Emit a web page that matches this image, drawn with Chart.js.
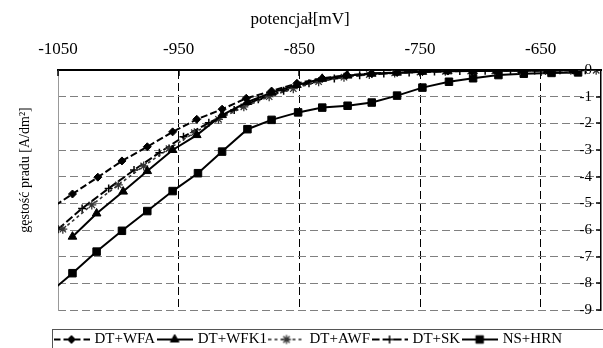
<!DOCTYPE html>
<html>
<head>
<meta charset="utf-8">
<script src="https://cdn.jsdelivr.net/npm/chart.js@4.4.1/dist/chart.umd.min.js"></script>
<style>
html,body{margin:0;padding:0;background:#fff;width:603px;height:348px;overflow:hidden}
#wrap{position:absolute;left:0;top:0;width:700px;height:357px}
canvas{display:block}
</style>
</head>
<body>
<div id="wrap"><canvas id="c" width="700" height="357"></canvas></div>
<script>
// potential [mV] and current density [A/dm2] for each bath
const potWFA  = [-1059, -1038, -1017, -997, -976, -955, -935, -914, -894, -873, -852, -831, -811, -790, -769, -748, -727, -707, -686, -665, -644, -623];
const jWFA    = [-5.28, -4.65, -4.02, -3.41, -2.88, -2.32, -1.85, -1.47, -1.06, -0.79, -0.50, -0.31, -0.20, -0.13, -0.09, -0.06, -0.04, -0.03, -0.02, -0.02, -0.01, -0.01];

const potWFK1 = [-1038, -1018, -996, -976, -955, -935, -914, -893, -873, -852, -831, -810, -790, -769, -748, -727, -706, -686, -665, -644, -623];
const jWFK1   = [-6.25, -5.38, -4.56, -3.79, -3.00, -2.44, -1.69, -1.20, -0.85, -0.56, -0.33, -0.21, -0.14, -0.10, -0.07, -0.05, -0.04, -0.03, -0.02, -0.02, -0.01];

const potAWF  = [-1046, -1022, -1000, -979, -958, -937, -917, -896, -875, -855, -834, -813, -792, -771, -750, -729, -708, -688, -667, -646, -625, -604];
const jAWF    = [-5.97, -5.06, -4.31, -3.60, -2.95, -2.35, -1.85, -1.38, -1.00, -0.70, -0.44, -0.27, -0.17, -0.11, -0.08, -0.05, -0.04, -0.03, -0.02, -0.02, -0.01, -0.01];

const potSK   = [-1050, -1030, -1008, -987, -966, -946, -925, -904, -884, -863, -842, -821, -800, -780, -759, -738, -717, -696, -675, -655, -634, -613];
const jSK     = [-5.97, -5.19, -4.44, -3.75, -3.10, -2.50, -1.98, -1.50, -1.10, -0.78, -0.50, -0.32, -0.20, -0.13, -0.09, -0.06, -0.04, -0.03, -0.02, -0.02, -0.01, -0.01];

const potHRN  = [-1059, -1038, -1018, -997, -976, -955, -934, -914, -893, -873, -851, -831, -810, -790, -769, -748, -726, -706, -685, -664, -641, -619];
const jHRN    = [-8.43, -7.62, -6.81, -6.03, -5.29, -4.54, -3.87, -3.06, -2.22, -1.87, -1.59, -1.41, -1.34, -1.22, -0.96, -0.66, -0.44, -0.31, -0.19, -0.14, -0.11, -0.09];

const seriesNames = ['DT+WFA', 'DT+WFK1', 'DT+AWF', 'DT+SK', 'NS+HRN'];
const xTicks = [-1050, -950, -850, -750, -650];
const yTicks = [0, -1, -2, -3, -4, -5, -6, -7, -8, -9];
const xTitle = 'potencjał[mV]';
const yTitle = 'gęstość pradu [A/dm²]';

const FONT = '"Liberation Serif", "Times New Roman", serif';

function pts(xs, ys) { return xs.map((x, i) => ({ x: x, y: ys[i] })); }

function series(label, xs, ys, style) {
  return Object.assign({
    label: label,
    data: pts(xs, ys),
    xAxisID: 'x',
    yAxisID: 'y',
    borderColor: '#000',
    backgroundColor: '#000',
    pointBackgroundColor: '#000',
    pointBorderColor: '#000',
    borderWidth: 2,
    pointBorderWidth: 1,
    tension: 0,
    fill: false
  }, style);
}

const datasets = [
  series(seriesNames[0], potWFA, jWFA, { borderDash: [7, 3], pointStyle: 'rectRot', pointRadius: 4 }),
  series(seriesNames[1], potWFK1, jWFK1, { borderDash: [], pointStyle: 'triangle', pointRadius: 5 }),
  series(seriesNames[2], potAWF, jAWF, { borderDash: [3, 3], pointStyle: 'star', pointRadius: 4.5, pointBorderWidth: 1.3,
    borderColor: '#333', pointBorderColor: '#333', borderWidth: 1.6 }),
  series(seriesNames[3], potSK, jSK, { borderDash: [8, 3], pointStyle: 'cross', pointRadius: 4, pointBorderWidth: 1.5 }),
  series(seriesNames[4], potHRN, jHRN, { borderDash: [], pointStyle: 'rect', pointRadius: 5.3 })
];

// legend key: short line in the series' dash style with its marker in the middle
function legendKey(ds) {
  const cv = document.createElement('canvas');
  cv.width = 36; cv.height = 14;
  const g = cv.getContext('2d');
  g.strokeStyle = ds.borderColor; g.fillStyle = ds.pointBackgroundColor;
  g.lineWidth = ds.borderWidth;
  g.setLineDash(ds.borderDash || []);
  g.beginPath(); g.moveTo(0, 7); g.lineTo(36, 7); g.stroke();
  g.setLineDash([]);
  g.strokeStyle = ds.pointBorderColor;
  g.lineWidth = ds.pointBorderWidth;
  if (Chart.helpers && Chart.helpers.drawPoint) {
    Chart.helpers.drawPoint(g, { pointStyle: ds.pointStyle, radius: ds.pointRadius, rotation: 0, borderWidth: ds.pointBorderWidth }, 18, 7);
  }
  return cv;
}

const decor = {
  id: 'decor',
  afterDraw(chart) {
    const { ctx, chartArea: a, scales } = chart;
    ctx.save();
    // inward tick marks
    ctx.strokeStyle = '#000';
    ctx.lineWidth = 1.5;
    xTicks.forEach(v => {
      const px = Math.round(scales.x.getPixelForValue(v));
      ctx.beginPath(); ctx.moveTo(px, a.top); ctx.lineTo(px, a.top + 6); ctx.stroke();
    });
    yTicks.forEach(v => {
      const py = Math.round(scales.y.getPixelForValue(v));
      ctx.beginPath(); ctx.moveTo(a.right - 5, py); ctx.lineTo(a.right, py); ctx.stroke();
    });
    // axis titles
    ctx.fillStyle = '#000';
    ctx.textAlign = 'center';
    ctx.textBaseline = 'middle';
    ctx.font = '17px ' + FONT;
    ctx.fillText(xTitle, a.left + 242, 20);
    ctx.save();
    ctx.translate(25, 170);
    ctx.rotate(-Math.PI / 2);
    ctx.font = '14px ' + FONT;
    ctx.fillText(yTitle, 0, 0);
    ctx.restore();
    // legend frame
    const lg = chart.legend;
    ctx.strokeStyle = '#555';
    ctx.lineWidth = 1;
    ctx.strokeRect(lg.left + 0.5, 329.5, lg.width, 40);
    ctx.restore();
  }
};

new Chart(document.getElementById('c'), {
  type: 'line',
  data: { datasets: datasets },
  plugins: [decor],
  options: {
    responsive: false,
    animation: false,
    events: [],
    layout: { padding: { left: 52, right: 0, top: 0, bottom: 0 } },
    plugins: {
      tooltip: { enabled: false },
      title: { display: false },
      legend: {
        display: true,
        position: 'bottom',
        align: 'start',
        labels: {
          usePointStyle: true,
          pointStyleWidth: 31,
          padding: 4,
          color: '#000',
          font: { family: FONT, size: 15 },
          generateLabels: chart => chart.data.datasets.map((ds, i) => ({
            text: ds.label,
            pointStyle: legendKey(ds),
            datasetIndex: i,
            hidden: false,
            lineWidth: 0,
            fillStyle: 'rgba(0,0,0,0)',
            strokeStyle: 'rgba(0,0,0,0)'
          }))
        }
      }
    },
    scales: {
      x: {
        type: 'linear',
        position: 'top',
        min: -1050,
        max: -600,
        afterBuildTicks: s => { s.ticks = xTicks.map(v => ({ value: v })); },
        afterFit: s => { s.height = 70; },
        ticks: { color: '#000', padding: 10, font: { family: FONT, size: 17 }, callback: v => String(v) },
        grid: { drawTicks: false, lineWidth: 1, color: c => (c.tick && c.tick.value === -1050) ? 'rgba(0,0,0,0)' : '#000' },
        border: { display: true, color: '#000', width: 2, dash: [8, 4] }
      },
      xB: {
        type: 'linear',
        position: 'bottom',
        afterFit: s => { s.height = 18; },
        ticks: { display: false },
        grid: { display: false },
        border: { display: false }
      },
      yL: {
        type: 'linear',
        position: 'left',
        afterFit: s => { s.width = 6; },
        ticks: { display: false },
        grid: { display: false },
        border: { display: true, color: '#999', width: 1 }
      },
      y: {
        type: 'linear',
        position: 'right',
        min: -9,
        max: 0,
        afterBuildTicks: s => { s.ticks = yTicks.map(v => ({ value: v })); },
        afterFit: s => { s.width = 99; },
        ticks: { mirror: true, padding: -9, color: '#000', font: { family: FONT, size: 15 }, callback: v => String(v) },
        grid: { drawTicks: false, lineWidth: 1, color: c => (c.tick && c.tick.value === 0) ? 'rgba(0,0,0,0)' : '#808080' },
        border: { display: true, color: '#000', width: 1.5, dash: [8, 4] }
      }
    }
  }
});
</script>
</body>
</html>
